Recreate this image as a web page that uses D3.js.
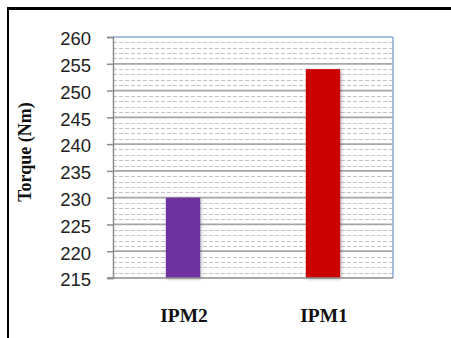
<!DOCTYPE html>
<html><head><meta charset="utf-8">
<script src="https://cdn.jsdelivr.net/npm/d3@7"></script>
<style>html,body{margin:0;padding:0;background:#fff;}svg{display:block;}</style>
</head><body>
<script>
const categories = ["IPM2", "IPM1"];
const torque = [230, 254];
const barColors = ["#7030A0", "#CC0000"];
const yTicks = [215, 220, 225, 230, 235, 240, 245, 250, 255, 260];

const W = 451, H = 338;
const m = {left: 113, right: 393, top: 37, bottom: 278};
const svg = d3.select("body").append("svg").attr("width", W).attr("height", H);

const defs = svg.append("defs");
const f = defs.append("filter").attr("id","sh").attr("x","-30%").attr("y","-10%").attr("width","160%").attr("height","120%");
f.append("feGaussianBlur").attr("in","SourceAlpha").attr("stdDeviation",1.5).attr("result","b");
f.append("feOffset").attr("in","b").attr("dx",1).attr("dy",1).attr("result","o");
f.append("feComponentTransfer").attr("in","o").attr("result","o2").append("feFuncA").attr("type","linear").attr("slope",0.35);
const mg = f.append("feMerge"); mg.append("feMergeNode").attr("in","o2"); mg.append("feMergeNode").attr("in","SourceGraphic");

// outer frame
svg.append("line").attr("x1",7).attr("x2",W).attr("y1",8.5).attr("y2",8.5).attr("stroke","#000").attr("stroke-width",3);
svg.append("line").attr("x1",8).attr("x2",8).attr("y1",7).attr("y2",H).attr("stroke","#000").attr("stroke-width",2);

const y = d3.scaleLinear().domain([215, 260]).range([m.bottom, m.top]);
const x = d3.scaleBand().domain(categories).range([m.left, m.right]).padding(0);

// minor gridlines
const minor = d3.range(216, 260).filter(v => v % 5 !== 0);
svg.append("g").selectAll("line").data(minor).join("line")
  .attr("x1", m.left).attr("x2", m.right)
  .attr("y1", d => Math.round(y(d)) + 0.5).attr("y2", d => Math.round(y(d)) + 0.5)
  .attr("stroke", "#c4c4c4").attr("stroke-width", 1).attr("stroke-dasharray", "4,2");

// major gridlines
svg.append("g").selectAll("line").data(yTicks.slice(1, -1)).join("line")
  .attr("x1", m.left).attr("x2", m.right)
  .attr("y1", d => y(d)).attr("y2", d => y(d))
  .attr("stroke", "#a6a6a6").attr("stroke-width", 1.7);

// plot border top/right (blue)
svg.append("line").attr("x1", m.left).attr("x2", m.right).attr("y1", m.top).attr("y2", m.top).attr("stroke", "#8eaad3").attr("stroke-width", 1.5);
svg.append("line").attr("x1", m.right).attr("x2", m.right).attr("y1", m.top).attr("y2", m.bottom).attr("stroke", "#8eaad3").attr("stroke-width", 1.5);

// bars
const bw = x.bandwidth() * 0.245;
svg.append("g").selectAll("rect").data(torque).join("rect")
  .attr("x", (d, i) => x(categories[i]) + x.bandwidth() / 2 - bw / 2)
  .attr("width", bw)
  .attr("y", d => y(d))
  .attr("height", d => y(215) - y(d))
  .attr("fill", (d, i) => barColors[i])
  .attr("filter", "url(#sh)");

// y axis
const yAxis = d3.axisLeft(y).tickValues(yTicks).tickSize(6).tickPadding(16).tickFormat(d3.format("d"));
const ga = svg.append("g").attr("transform", `translate(${m.left},0)`).call(yAxis);
ga.select(".domain").attr("stroke", "#8c8c8c").attr("stroke-width", 1.5);
ga.selectAll(".tick line").attr("stroke", "#8c8c8c").attr("stroke-width", 1.5);
ga.selectAll(".tick text").attr("font-family", "'Liberation Sans', Arial, sans-serif").attr("font-size", 18.5).attr("fill", "#222").attr("dy", "0.42em");

// x axis baseline
svg.append("line").attr("x1", m.left - 6).attr("x2", m.right).attr("y1", m.bottom).attr("y2", m.bottom).attr("stroke", "#8c8c8c").attr("stroke-width", 1.5);

// category labels
svg.append("g").selectAll("text").data(categories).join("text")
  .attr("x", d => x(d) + x.bandwidth() / 2 + 1)
  .attr("y", 322)
  .attr("text-anchor", "middle")
  .attr("font-family", "'Liberation Serif', 'Times New Roman', serif")
  .attr("font-weight", "bold").attr("font-size", 19.5).attr("fill", "#111")
  .text(d => d);

// y title
svg.append("text")
  .attr("transform", `translate(31,152) rotate(-90)`)
  .attr("text-anchor", "middle")
  .attr("font-family", "'Liberation Serif', 'Times New Roman', serif")
  .attr("font-weight", "bold").attr("font-size", 18).attr("fill", "#111")
  .text("Torque (Nm)");
</script>
</body></html>
